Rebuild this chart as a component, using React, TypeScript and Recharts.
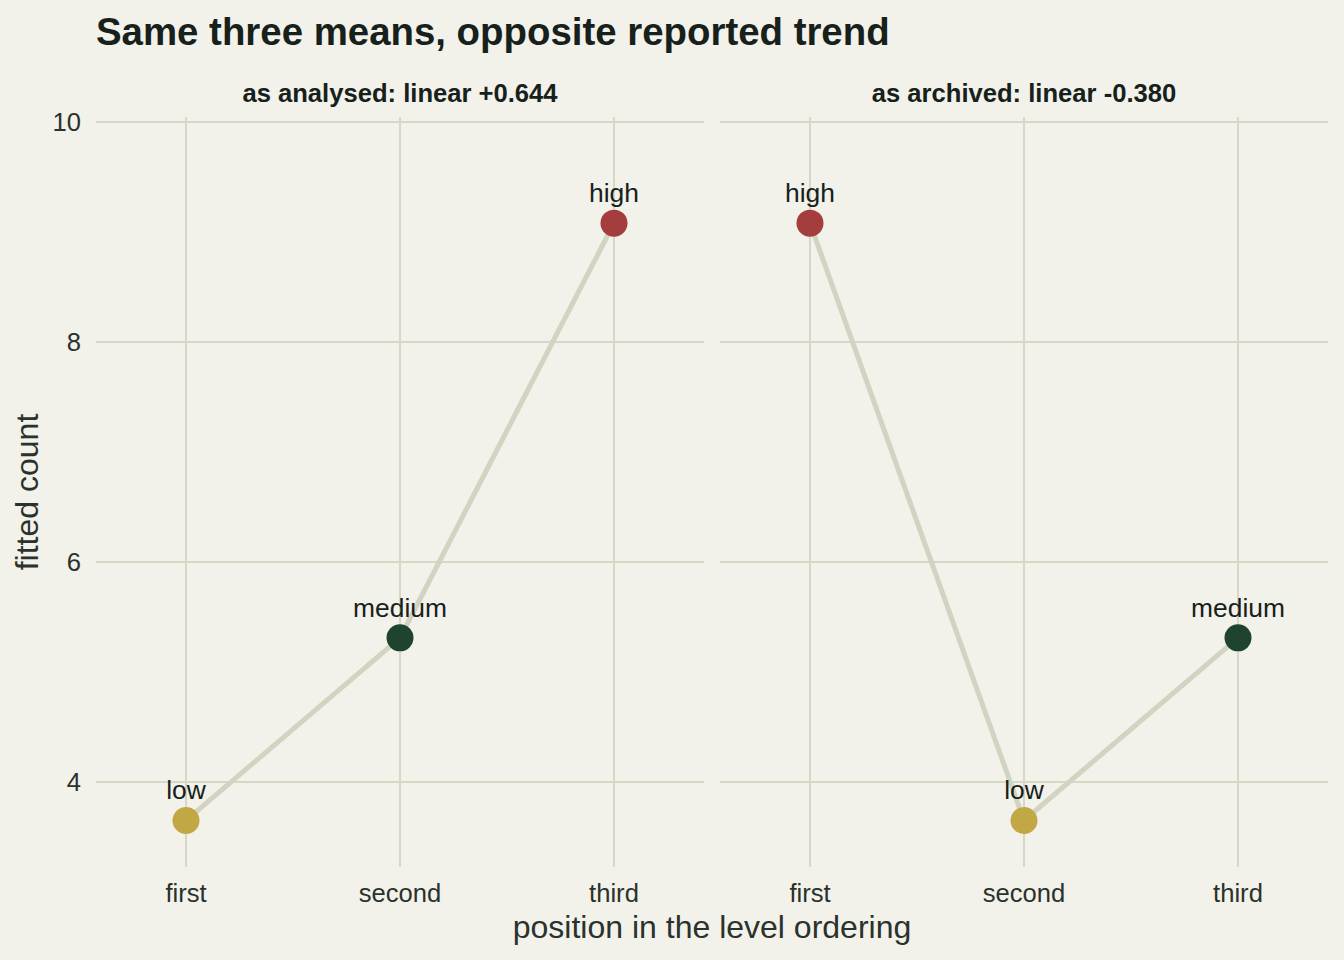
import React from "react";
import { LineChart, Line, XAxis, YAxis, ReferenceLine, LabelList } from "recharts";

// ---- data ----
const positions = ["first", "second", "third"];
const levels = ["low", "medium", "high"];
const levelMeans = [3.65, 5.31, 9.08];
const analysedOrder = ["low", "medium", "high"];
const archivedOrder = ["high", "low", "medium"];
const yTicks = [4, 6, 8, 10];
const panelTitles = ["as analysed: linear +0.644", "as archived: linear -0.380"];
const chartTitle = "Same three means, opposite reported trend";
const xTitle = "position in the level ordering";
const yTitle = "fitted count";

// ---- style ----
const FONT = '"Liberation Sans", Arial, Helvetica, sans-serif';
const BG = "#F2F1EA";
const GRID = "#D7D7C6";
const LINE = "#D2D3C1";
const TEXT = "#17211B";
const TICK = "#2A322D";
const levelColors: Record<string, string> = {
  low: "#C2A845",
  medium: "#1E4430",
  high: "#A43E3E",
};

const meanOf = (lv: string) => levelMeans[levels.indexOf(lv)];
const buildRows = (order: string[]) =>
  positions.map((p, i) => ({ pos: p, level: order[i], mean: meanOf(order[i]) }));

const analysedRows = buildRows(analysedOrder);
const archivedRows = buildRows(archivedOrder);

const Y_DOMAIN: [number, number] = [3.227, 10.045];
const TOP_PAD = 40;

const Dot = (props: any) => {
  const { cx, cy, payload } = props;
  if (cx == null || cy == null) return null;
  return <circle cx={cx} cy={cy} r={13.5} fill={levelColors[payload.level]} />;
};

const PointLabel = (props: any) => {
  const { x, y, value } = props;
  return (
    <text x={x} y={y - 21} textAnchor="middle" fontFamily={FONT} fontSize={26.4} fill={TEXT}>
      {value}
    </text>
  );
};

const Panel = ({ rows, showY }: { rows: any[]; showY: boolean }) => (
  <LineChart
    width={showY ? 704 : 608}
    height={810 + TOP_PAD}
    data={rows}
    margin={{ top: TOP_PAD, right: 0, bottom: 0, left: 0 }}
    style={{ overflow: "visible" }}
  >
    <XAxis
      dataKey="pos"
      type="category"
      padding={{ left: 90, right: 90 }}
      axisLine={false}
      tickLine={false}
      tickSize={0}
      tickMargin={17}
      height={60}
      tick={{ fontFamily: FONT, fontSize: 25.6, fill: TICK }}
      interval={0}
    />
    <YAxis
      hide={!showY}
      width={showY ? 96 : 0}
      type="number"
      domain={Y_DOMAIN}
      ticks={yTicks}
      interval={0}
      allowDataOverflow
      axisLine={false}
      tickLine={false}
      tickSize={0}
      tickMargin={15}
      tick={{ fontFamily: FONT, fontSize: 25.6, fill: TICK }}
    />
    {yTicks.map((t) => (
      <ReferenceLine key={"h" + t} y={t} stroke={GRID} strokeWidth={2} />
    ))}
    {positions.map((p) => (
      <ReferenceLine key={"v" + p} x={p} stroke={GRID} strokeWidth={2} />
    ))}
    <Line
      dataKey="mean"
      stroke={LINE}
      strokeWidth={5}
      dot={<Dot />}
      activeDot={false}
      isAnimationActive={false}
    >
      <LabelList dataKey="level" content={<PointLabel />} />
    </Line>
  </LineChart>
);

export default function App() {
  return (
    <div
      style={{
        position: "absolute",
        left: 0,
        top: 0,
        width: 1344,
        height: 960,
        background: BG,
        overflow: "hidden",
      }}
    >
      <div style={{ position: "absolute", left: 0, top: 117 - TOP_PAD }}>
        <Panel rows={analysedRows} showY={true} />
      </div>
      <div style={{ position: "absolute", left: 720, top: 117 - TOP_PAD }}>
        <Panel rows={archivedRows} showY={false} />
      </div>
      <svg
        width={1344}
        height={960}
        style={{ position: "absolute", left: 0, top: 0, pointerEvents: "none" }}
      >
        <text x={96} y={45} fontFamily={FONT} fontSize={38.4} fontWeight="bold" fill={TEXT}>
          {chartTitle}
        </text>
        <text x={400} y={102} textAnchor="middle" fontFamily={FONT} fontSize={25.6} fontWeight="bold" fill={TEXT}>
          {panelTitles[0]}
        </text>
        <text x={1024} y={102} textAnchor="middle" fontFamily={FONT} fontSize={25.6} fontWeight="bold" fill={TEXT}>
          {panelTitles[1]}
        </text>
        <text x={712} y={938} textAnchor="middle" fontFamily={FONT} fontSize={32} fill={TICK}>
          {xTitle}
        </text>
        <text
          x={0}
          y={0}
          transform="translate(38,492) rotate(-90)"
          textAnchor="middle"
          fontFamily={FONT}
          fontSize={32}
          fill={TICK}
        >
          {yTitle}
        </text>
      </svg>
    </div>
  );
}
